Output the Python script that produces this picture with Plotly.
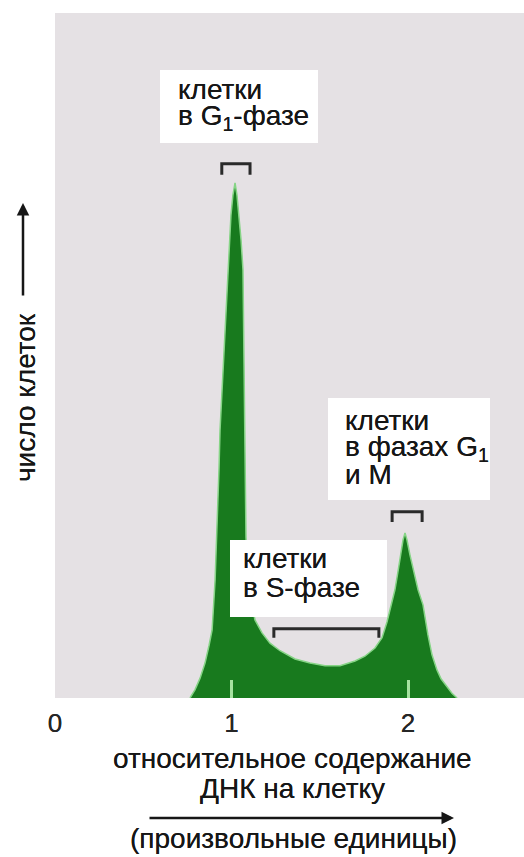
import plotly.graph_objects as go

# ---------------- data ----------------
dna_content = [0.765, 0.793, 0.822, 0.850, 0.873, 0.890, 0.907, 0.918, 0.929, 0.935,
               0.952, 0.969, 0.980, 0.997, 1.008, 1.020, 1.031, 1.042, 1.054, 1.065,
               1.071, 1.076, 1.082, 1.088, 1.105, 1.133, 1.173, 1.218, 1.275, 1.360,
               1.445, 1.530, 1.615, 1.700, 1.756, 1.813, 1.853, 1.881, 1.904, 1.926,
               1.943, 1.960, 1.972, 1.983, 1.994, 2.011, 2.034, 2.057, 2.085, 2.113,
               2.136, 2.164, 2.187, 2.221, 2.249, 2.278]
cell_count = [0.0, 1.2, 2.9, 5.1, 7.7, 9.9, 17.2, 24.5, 33.3, 39.1,
              47.9, 56.6, 62.5, 70.5, 73.4, 75.2, 73.4, 70.5, 66.9, 62.5,
              47.9, 39.1, 23.5, 20.1, 15.0, 11.4, 9.5, 8.0, 6.9, 5.7,
              5.1, 4.7, 4.7, 5.4, 6.1, 7.3, 8.8, 11.1, 13.3, 15.8,
              18.4, 21.3, 23.1, 24.1, 23.1, 20.9, 18.4, 15.8, 13.6, 9.2,
              6.3, 4.1, 2.8, 1.6, 0.7, 0.0]

tick_values = [0, 1, 2]
tick_labels = ["0", "1", "2"]
peak_ticks = [1, 2]

# phase ranges marked with brackets: (x start, x end, bracket top, bracket foot)
g1_bracket = [0.945, 1.105, 78.0, 76.4]
s_bracket = [1.240, 1.835, 10.1, 8.8]
g2_bracket = [1.910, 2.080, 27.2, 25.7]

label_g1 = ["клетки", "в G<sub>1</sub>-фазе"]
label_g2 = ["клетки", "в фазах G<sub>1</sub>", "и М"]
label_s = ["клетки", "в S-фазе"]
x_title = ["относительное содержание", "ДНК на клетку"]
x_units = "(произвольные единицы)"
y_title = "число клеток"

# ---------------- layout helpers (pixel -> paper) ----------------
W, H = 524, 857
L, T, B = 55, 13, 159
PW, PH = W - L, H - T - B
X_MAX = PW / 176.5


def px(x):
    return (x - L) / PW


def py(y):
    return (H - B - y) / PH


FONT = "Liberation Sans, Arial, sans-serif"
FS = 28
TXT = "#161616"
SHADOW = "0px 0px 0.6px rgba(20,20,20,0.9)"

fig = go.Figure()

fig.add_trace(go.Scatter(
    x=dna_content, y=cell_count, mode="lines", fill="tozeroy",
    fillcolor="#187a1e", line=dict(color="#86d486", width=1.5),
    hoverinfo="skip", showlegend=False))


def bracket(b):
    x0, x1, top, foot = b
    return go.Scatter(x=[x0, x0, x1, x1], y=[foot, top, top, foot], mode="lines",
                      line=dict(color="#2a2a2a", width=3), hoverinfo="skip",
                      showlegend=False)


for b in (g1_bracket, s_bracket, g2_bracket):
    fig.add_trace(bracket(b))

# invisible trace for the tick-only overlay axis
fig.add_trace(go.Scatter(x=[peak_ticks[0]], y=[0], xaxis="x2", mode="markers",
                         marker=dict(opacity=0), hoverinfo="skip", showlegend=False))

shapes = []
for (x0, y0, x1, y1) in [(160, 70, 318, 143), (328, 398, 490, 500), (230, 540, 387, 617)]:
    shapes.append(dict(type="rect", xref="paper", yref="paper",
                       x0=px(x0), x1=px(x1), y0=py(y1), y1=py(y0),
                       fillcolor="white", line=dict(width=0), layer="above"))

annotations = []


def text_line(t, x, baseline, anchor="left", size=FS):
    annotations.append(dict(text=t, xref="paper", yref="paper", x=px(x),
                            y=py(baseline - 0.35 * size), xanchor=anchor, yanchor="middle",
                            showarrow=False, borderpad=0,
                            font=dict(family=FONT, size=size, color=TXT, shadow=SHADOW)))


for t, bl in zip(label_g1, [99, 127]):
    text_line(t, 177, bl)
for t, bl in zip(label_g2, [430, 458, 484]):
    text_line(t, 344, bl)
for t, bl in zip(label_s, [568, 597]):
    text_line(t, 242, bl)
for t, bl in zip(x_title, [768, 798]):
    text_line(t, 292, bl, anchor="center")
text_line(x_units, 293, 848, anchor="center")

annotations.append(dict(text=y_title, xref="paper", yref="paper", x=px(25), y=py(398),
                        textangle=-90, showarrow=False, xanchor="center", yanchor="middle",
                        font=dict(family=FONT, size=FS, color=TXT, shadow=SHADOW)))
# axis arrows
annotations.append(dict(text="", xref="paper", yref="paper", x=px(23), y=py(203),
                        ax=0, ay=94, showarrow=True, arrowhead=2, arrowsize=1,
                        arrowwidth=2.5, arrowcolor=TXT))
annotations.append(dict(text="", xref="paper", yref="paper", x=px(454), y=py(818),
                        ax=-306, ay=0, showarrow=True, arrowhead=2, arrowsize=1,
                        arrowwidth=2.5, arrowcolor=TXT))

fig.update_layout(
    width=W, height=H, margin=dict(l=L, r=0, t=T, b=B, pad=0),
    paper_bgcolor="white", plot_bgcolor="#e5e1e4",
    shapes=shapes, annotations=annotations, showlegend=False,
    xaxis=dict(range=[0, X_MAX], tickvals=tick_values, ticktext=tick_labels,
               showgrid=False, zeroline=False, showline=False, ticks="",
               tickfont=dict(family=FONT, size=26, color="#262626", shadow=SHADOW),
               ticklabelstandoff=7, fixedrange=True),
    xaxis2=dict(range=[0, X_MAX], overlaying="x", anchor="y", side="bottom",
                tickvals=peak_ticks, ticks="inside", ticklen=18, tickwidth=3,
                tickcolor="#a6e2a0", showticklabels=False, showgrid=False,
                zeroline=False, showline=False, fixedrange=True),
    yaxis=dict(range=[0, 100], showgrid=False, zeroline=False, showline=False,
               showticklabels=False, ticks="", fixedrange=True),
)

fig.write_html("out.html", config=dict(displayModeBar=False),
               post_script="document.body.style.margin='0px';document.body.style.overflow='hidden';")
